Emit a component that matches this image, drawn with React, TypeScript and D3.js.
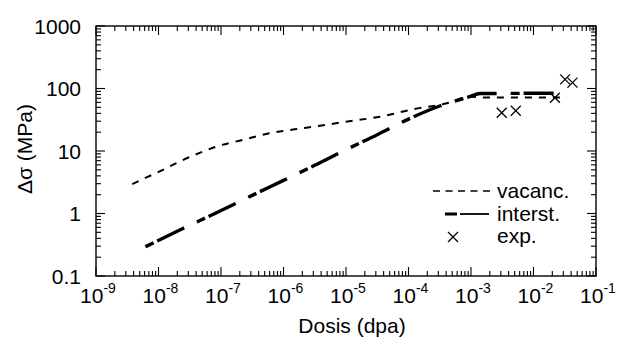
import React from "react";
import * as d3 from "d3";

const vacancX = [3.8e-9, 6.3e-9, 1.02e-8, 1.9e-8, 2.95e-8, 5.1e-8, 8.3e-8, 2.2e-7, 5.9e-7, 1.5e-6, 3e-6, 1e-5, 3.5e-5, 1.2e-4, 4.1e-4, 9.5e-4, 1.5e-3, 2.8e-2];
const vacancY = [2.95, 3.74, 4.67, 6.35, 7.8, 9.75, 11.7, 15, 19.2, 22.2, 24.5, 29.4, 35.4, 46.5, 58, 74, 72, 72];
const interstX = [6.2e-9, 2.45e-8, 8.3e-8, 3.16e-7, 1e-6, 3.16e-6, 1e-5, 3.16e-5, 1e-4, 3.16e-4, 9.5e-4, 1.4e-3, 2.8e-2];
const interstY = [0.294, 0.575, 1.02, 1.95, 3.39, 5.9, 10.5, 18.2, 32.4, 52.5, 74, 83, 84];
const expX = [3.1e-3, 5.2e-3, 2.2e-2, 3.2e-2, 4.2e-2];
const expY = [41, 44, 71, 140, 124];

const xMajor = [-9, -8, -7, -6, -5, -4, -3, -2, -1];
const yMajorLabels = ["0.1", "1", "10", "100", "1000"];
const yMajor = [0.1, 1, 10, 100, 1000];
const legendLabels = ["vacanc.", "interst.", "exp."];

const L = 96, R = 596, T = 26, B = 276;
const font = "Arial, 'Liberation Sans', Helvetica, sans-serif";

export default function App() {
  const x = d3.scaleLog().domain([1e-9, 1e-1]).range([L, R]);
  const y = d3.scaleLog().domain([0.1, 1000]).range([B, T]);
  const line = d3
    .line<[number, number]>()
    .x((d) => x(d[0]))
    .y((d) => y(d[1]))
    .curve(d3.curveMonotoneX);
  const vac = vacancX.map((v, i) => [v, vacancY[i]] as [number, number]);
  const int = interstX.map((v, i) => [v, interstY[i]] as [number, number]);
  const xt = x.ticks();
  const yt = y.ticks();
  const isMajor = (v: number) => Math.abs(Math.log10(v) - Math.round(Math.log10(v))) < 1e-6;
  const cross = (cx: number, cy: number, s: number, k: string) => (
    <g key={k} stroke="#000" strokeWidth={1.3}>
      <line x1={cx - s} y1={cy - s} x2={cx + s} y2={cy + s} />
      <line x1={cx - s} y1={cy + s} x2={cx + s} y2={cy - s} />
    </g>
  );
  return (
    <svg width={617} height={337} style={{ position: "absolute", left: 0, top: 0, background: "#fff" }} fontFamily={font}>
      <rect x={0} y={0} width={617} height={337} fill="#fff" />
      <rect x={L} y={T} width={R - L} height={B - T} fill="none" stroke="#000" strokeWidth={1.4} />
      {xt.map((v, i) => {
        const len = isMajor(v) ? 9 : 5;
        const px = x(v);
        return (
          <g key={"xt" + i} stroke="#000" strokeWidth={1.1}>
            <line x1={px} x2={px} y1={B} y2={B - len} />
            <line x1={px} x2={px} y1={T} y2={T + len} />
          </g>
        );
      })}
      {yt.map((v, i) => {
        const len = isMajor(v) ? 9 : 5;
        const py = y(v);
        return (
          <g key={"yt" + i} stroke="#000" strokeWidth={1.1}>
            <line x1={L} x2={L + len} y1={py} y2={py} />
            <line x1={R} x2={R - len} y1={py} y2={py} />
          </g>
        );
      })}
      {xMajor.map((e) => (
        <text key={"xl" + e} x={x(Math.pow(10, e)) + 2} y={303} fontSize={21} textAnchor="middle">
          10<tspan fontSize={14} dy={-10}>{String(e)}</tspan>
        </text>
      ))}
      {yMajor.map((v, i) => (
        <text key={"yl" + i} x={81} y={y(v) + 7.5} fontSize={21} textAnchor="end">
          {yMajorLabels[i]}
        </text>
      ))}
      <text x={352} y={333} fontSize={21} textAnchor="middle">Dosis (dpa)</text>
      <text transform="translate(32,149) rotate(-90)" fontSize={21} textAnchor="middle">Δσ (MPa)</text>
      <path d={line(vac) || ""} fill="none" stroke="#000" strokeWidth={2} strokeDasharray="7,7" />
      <path d={line(int) || ""} fill="none" stroke="#000" strokeWidth={3.4} strokeDasharray="9,4,30,14" />
      {expX.map((v, i) => cross(x(v), y(expY[i]), 5, "e" + i))}
      <line x1={433} x2={495} y1={191} y2={191} stroke="#000" strokeWidth={1.5} strokeDasharray="7,5.5" />
      <line x1={445} x2={457} y1={214} y2={214} stroke="#000" strokeWidth={3} />
      <line x1={460} x2={489} y1={214} y2={214} stroke="#000" strokeWidth={1.8} />
      {cross(453, 237, 5, "lg")}
      <text x={497} y={198} fontSize={21}>{legendLabels[0]}</text>
      <text x={497} y={221} fontSize={21}>{legendLabels[1]}</text>
      <text x={497} y={243} fontSize={21}>{legendLabels[2]}</text>
    </svg>
  );
}
